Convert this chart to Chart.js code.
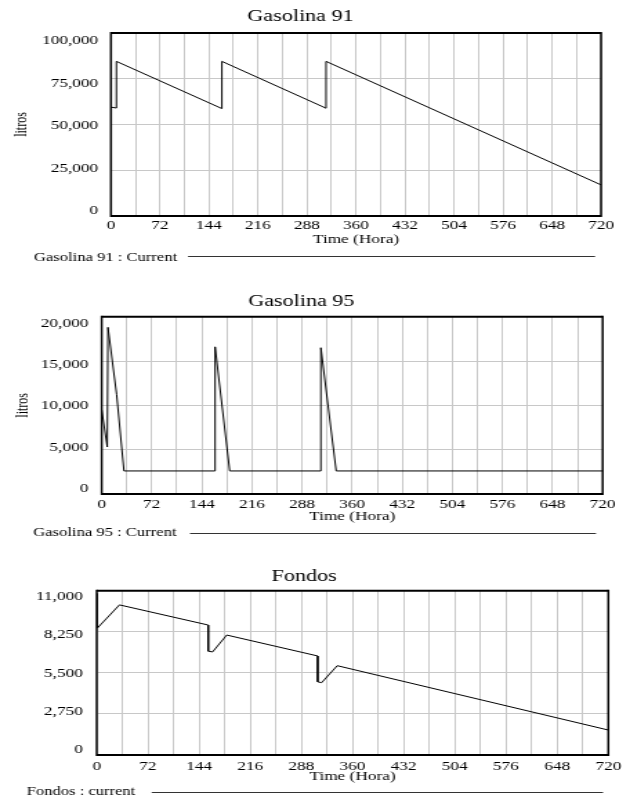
<!DOCTYPE html>
<html>
<head>
<meta charset="utf-8">
<script src="https://cdn.jsdelivr.net/npm/chart.js@4.4.1/dist/chart.umd.min.js"></script>
<style>
  body { margin: 0; background: #fff; }
  canvas { position: absolute; left: 0; }
</style>
</head>
<body>
<!-- drawn narrow and stretched sideways, like the original export -->
<canvas id="g91" width="456" height="270" style="top:0;width:630px;height:270px"></canvas>
<canvas id="g95" width="456" height="270" style="top:270px;width:630px;height:270px"></canvas>
<canvas id="fondos" width="456" height="258" style="top:540px;width:630px;height:258px"></canvas>
<script>
const hourGrid = [0, 36, 72, 108, 144, 180, 216, 252, 288, 324, 360, 396, 432, 468, 504, 540, 576, 612, 648, 684, 720];

const g91Hours = [0, 8, 8, 163, 163, 316, 316, 720];
const g91Litros = [59500, 59000, 84500, 58700, 84500, 58900, 84500, 17000];
const g91Ticks = [0, 25000, 50000, 75000, 100000];

const g95Hours = [0, 8, 9, 21.5, 32, 163, 163, 184, 315, 315, 337, 720];
const g95Litros = [9500, 5300, 18800, 11200, 2600, 2600, 16600, 2600, 2600, 16500, 2600, 2600];
const g95Ticks = [0, 5000, 10000, 15000, 20000];

const fondosHours = [0, 1, 32, 157, 157, 163, 183, 311, 311, 316.5, 338.5, 720];
const fondosValues = [10800, 8500, 10050, 8700, 6950, 6900, 8030, 6630, 4900, 4840, 5980, 1670];
const fondosTicks = [0, 2750, 5500, 8250, 11000];

const SERIF = "'Liberation Serif', 'Times New Roman', serif";

const framePlugin = {
  id: "frame",
  afterDatasetsDraw(chart) {
    const { ctx, chartArea: a } = chart;
    ctx.save();
    ctx.strokeStyle = "#000";
    ctx.lineWidth = 2;
    ctx.beginPath();
    ctx.moveTo(a.left, a.top);
    ctx.lineTo(a.right, a.top);
    ctx.moveTo(a.left, a.bottom);
    ctx.lineTo(a.right, a.bottom);
    ctx.stroke();
    ctx.lineWidth = 1.5;
    ctx.beginPath();
    ctx.moveTo(a.left, a.top - 1);
    ctx.lineTo(a.left, a.bottom + 1);
    ctx.moveTo(a.right, a.top - 1);
    ctx.lineTo(a.right, a.bottom + 1);
    ctx.stroke();
    ctx.restore();
  },
};

const seriesLabelPlugin = {
  id: "seriesLabel",
  afterDraw(chart, args, o) {
    const ctx = chart.ctx;
    ctx.save();
    ctx.font = "12px " + SERIF;
    ctx.fillStyle = "#000";
    ctx.textBaseline = "middle";
    ctx.textAlign = "left";
    ctx.fillText(o.text, o.x, o.y);
    ctx.strokeStyle = "#333";
    ctx.lineWidth = 1;
    ctx.beginPath();
    ctx.moveTo(o.x1, o.ly);
    ctx.lineTo(o.x2, o.ly);
    ctx.stroke();
    ctx.restore();
  },
};

// the labels sit a bit inside the frame (top one lower, bottom one higher),
// so they get their own scale with a slightly wider range
function labelRange(ticks, h, shiftBottom, shiftTop) {
  const lo = ticks[0];
  const span = ticks[ticks.length - 1] - lo;
  const full = (span * h) / (h + shiftBottom - shiftTop);
  const min = lo + (shiftBottom * full) / h;
  return { min: min, max: min + full };
}

function makeChart(id, hours, values, yTicks, s) {
  const lr = labelRange(yTicks, s.plotHeight, s.yShift[0], s.yShift[1]);
  return new Chart(document.getElementById(id), {
    type: "line",
    data: {
      datasets: [
        {
          data: hours.map((h, i) => ({ x: h, y: values[i] })),
          borderColor: "#000",
          borderWidth: 1,
          pointRadius: 0,
          tension: 0,
          fill: false,
        },
      ],
    },
    plugins: [framePlugin, seriesLabelPlugin],
    options: {
      responsive: false,
      animation: false,
      devicePixelRatio: 1,
      layout: { padding: { left: 0, right: s.padRight, top: 0, bottom: 0 } },
      plugins: {
        legend: { display: false },
        tooltip: { enabled: false },
        title: {
          display: true,
          text: s.title,
          color: "#000",
          font: { family: SERIF, size: 16, weight: "normal" },
          padding: s.titlePad,
        },
        seriesLabel: s.legend,
      },
      scales: {
        x: {
          type: "linear",
          min: 0,
          max: 720,
          afterBuildTicks: (scale) => {
            scale.ticks = hourGrid.map((v) => ({ value: v }));
          },
          afterFit: (scale) => {
            scale.height = s.xAxisHeight;
          },
          grid: { color: "#c8c8c8", lineWidth: 1, drawTicks: false },
          border: { display: false },
          ticks: {
            autoSkip: false,
            maxRotation: 0,
            padding: s.xTickPad,
            color: "#000",
            font: { family: SERIF, size: 12.5 },
            callback: (v) => (v % 72 === 0 ? String(v) : ""),
          },
          title: {
            display: true,
            text: "Time (Hora)",
            color: "#000",
            font: { family: SERIF, size: 12.5 },
            padding: { top: 0, bottom: s.xTitlePad },
          },
        },
        y: {
          min: yTicks[0],
          max: yTicks[yTicks.length - 1],
          afterBuildTicks: (scale) => {
            scale.ticks = yTicks.map((v) => ({ value: v }));
          },
          afterFit: (scale) => {
            scale.width = 0;
          },
          grid: { color: "#c8c8c8", lineWidth: 1, drawTicks: false },
          border: { display: false },
          ticks: { display: false },
        },
        yl: {
          position: "left",
          min: lr.min,
          max: lr.max,
          afterBuildTicks: (scale) => {
            scale.ticks = yTicks.map((v) => ({ value: v }));
          },
          afterFit: (scale) => {
            scale.width = s.axisLeft;
          },
          grid: { display: false, drawTicks: false },
          border: { display: false },
          ticks: {
            padding: s.yTickPad,
            color: "#000",
            font: { family: SERIF, size: 12.5 },
            callback: (v) => v.toLocaleString("en-US"),
          },
          title: {
            display: !!s.yTitle,
            text: s.yTitle || "",
            color: "#000",
            font: { family: SERIF, size: 12 },
            padding: { top: s.yTitlePad || 0, bottom: 0 },
          },
        },
      },
    },
  });
}

makeChart("g91", g91Hours, g91Litros, g91Ticks, {
  title: "Gasolina 91",
  yTitle: "litros",
  axisLeft: 80.3,
  padRight: 21,
  plotHeight: 183,
  titlePad: { top: 7.4, bottom: 6.4 },
  xAxisHeight: 54,
  xTickPad: 1.8,
  xTitlePad: 22.8,
  yTickPad: 9.2,
  yShift: [-5, 8],
  yTitlePad: 8.5,
  legend: { text: "Gasolina 91 : Current", x: 24.6, y: 258, x1: 136.1, x2: 430.7, ly: 256.5 },
});

makeChart("g95", g95Hours, g95Litros, g95Ticks, {
  title: "Gasolina 95",
  yTitle: "litros",
  axisLeft: 73.6,
  padRight: 19.8,
  plotHeight: 177.3,
  titlePad: { top: 22.4, bottom: 5.1 },
  xAxisHeight: 46,
  xTickPad: 3.2,
  xTitlePad: 16,
  yTickPad: 9.7,
  yShift: [-5.2, 6.6],
  yTitlePad: 9.3,
  legend: { text: "Gasolina 95 : Current", x: 24.1, y: 262.5, x1: 137.5, x2: 431.4, ly: 263.5 },
});

makeChart("fondos", fondosHours, fondosValues, fondosTicks, {
  title: "Fondos",
  axisLeft: 70.0,
  padRight: 15.7,
  plotHeight: 164.3,
  titlePad: { top: 27.1, bottom: 4.4 },
  xAxisHeight: 43,
  xTickPad: 4.5,
  xTitlePad: 13.5,
  yTickPad: 10.1,
  yShift: [-5, 6],
  legend: { text: "Fondos : current", x: 19.3, y: 251.5, x1: 109.8, x2: 436.5, ly: 252.5 },
});
</script>
</body>
</html>
